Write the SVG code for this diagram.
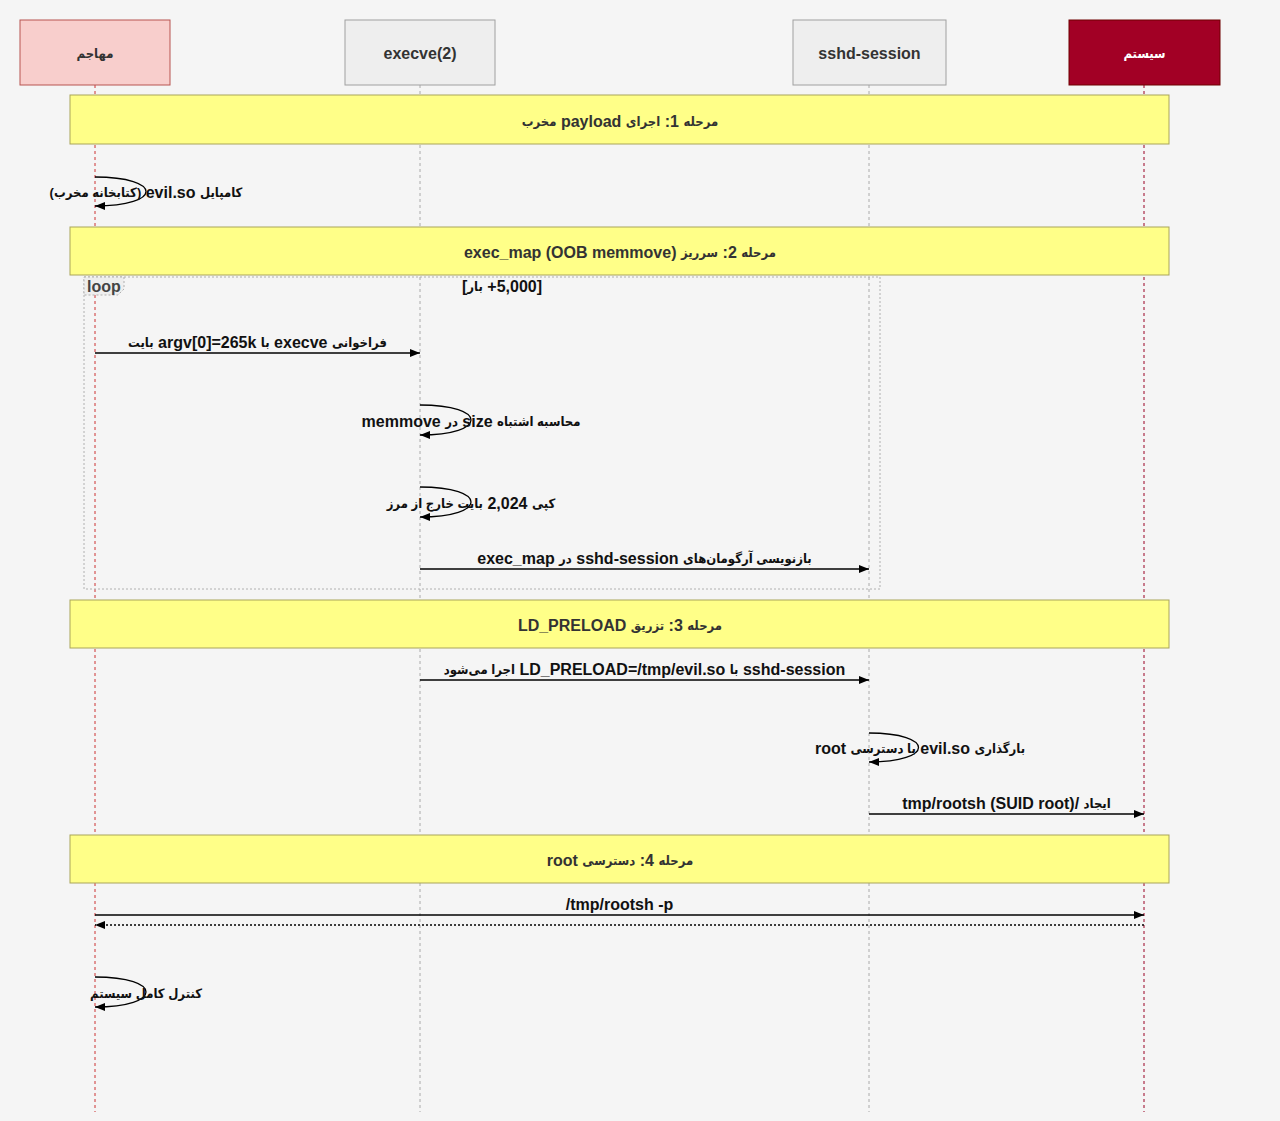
<svg xmlns="http://www.w3.org/2000/svg" width="1280" height="1121" viewBox="0 0 1280 1121">
<defs>
<style>
.t{font-family:"Liberation Sans","DejaVu Sans Condensed","DejaVu Sans",sans-serif;font-size:16px;font-weight:bold;text-anchor:middle;dominant-baseline:central}
.r{direction:rtl}
.l{direction:ltr}
.fa{font-size:13px}
.msg{fill:#111}
.ph{fill:#333}
.life{stroke-width:1;stroke-dasharray:3,3;fill:none}
.phase{fill:#ffff88;stroke:#aaa55a;stroke-width:1}
.part{stroke-width:1}
.line{stroke:#000;stroke-width:1.3;fill:none;marker-end:url(#ah)}
.dot{stroke:#000;stroke-width:1.3;fill:none;stroke-dasharray:2,2;marker-end:url(#ah)}
</style>
<marker id="ah" viewBox="0 0 10 8" refX="10" refY="4" markerWidth="10" markerHeight="8" markerUnits="userSpaceOnUse" orient="auto">
<path d="M0,0 L10,4 L0,8 z" fill="#000"/>
</marker>
</defs>
<rect x="0" y="0" width="1280" height="1121" fill="#f5f5f5"/>

<g id="lifelines">
<line class="life" x1="95" y1="85" x2="95" y2="1112" stroke="#cc3333"/>
<line class="life" x1="420" y1="85" x2="420" y2="1112" stroke="#aaa"/>
<line class="life" x1="869" y1="85" x2="869" y2="1112" stroke="#aaa"/>
<line class="life" x1="1144" y1="85" x2="1144" y2="1112" stroke="#990022"/>
</g>

<g id="loop">
<rect x="84" y="277" width="796" height="312" fill="none" stroke="#b0b0b0" stroke-width="1" stroke-dasharray="2,2"/>
<polygon points="84,277 124,277 124,289 118,295 84,295" fill="#eeeeee" stroke="#b0b0b0" stroke-width="1" stroke-dasharray="2,2"/>
<text class="t l" x="104" y="286" fill="#444">loop</text>
<text class="t r msg" x="502" y="286">[5,000+ <tspan class="fa">بار</tspan>]</text>
</g>

<g id="phase1">
<rect class="phase" x="70" y="95" width="1099" height="49"/>
<text class="t r ph" x="620" y="121"><tspan class="fa">مرحله</tspan> 1: <tspan class="fa">اجرای</tspan> payload <tspan class="fa">مخرب</tspan></text>
</g>
<g id="phase2">
<rect class="phase" x="70" y="227" width="1099" height="48"/>
<text class="t r ph" x="620" y="252"><tspan class="fa">مرحله</tspan> 2: <tspan class="fa">سرریز</tspan> exec_map (OOB memmove)</text>
</g>
<g id="phase3">
<rect class="phase" x="70" y="600" width="1099" height="48"/>
<text class="t r ph" x="620" y="625"><tspan class="fa">مرحله</tspan> 3: <tspan class="fa">تزریق</tspan> LD_PRELOAD</text>
</g>
<g id="phase4">
<rect class="phase" x="70" y="835" width="1099" height="48"/>
<text class="t r ph" x="620" y="860"><tspan class="fa">مرحله</tspan> 4: <tspan class="fa">دسترسی</tspan> root</text>
</g>

<g id="connectors">
<path class="line" d="M95,177 C163,177 163,206 95,206"/>
<text class="t r msg" x="146" y="192"><tspan class="fa">کامپایل</tspan> evil.so <tspan class="fa">(کتابخانه مخرب)</tspan></text>

<line class="line" x1="95" y1="353" x2="420" y2="353"/>
<text class="t r msg" x="257.5" y="342"><tspan class="fa">فراخوانی</tspan> execve <tspan class="fa">با</tspan> argv[0]=265k <tspan class="fa">بایت</tspan></text>

<path class="line" d="M420,405 C488,405 488,435 420,435"/>
<text class="t r msg" x="471" y="421"><tspan class="fa">محاسبه اشتباه</tspan> size <tspan class="fa">در</tspan> memmove</text>

<path class="line" d="M420,487 C488,487 488,517 420,517"/>
<text class="t r msg" x="471" y="503"><tspan class="fa">کپی</tspan> 2,024 <tspan class="fa">بایت خارج از مرز</tspan></text>

<line class="line" x1="420" y1="569" x2="869" y2="569"/>
<text class="t r msg" x="644.5" y="558"><tspan class="fa">بازنویسی آرگومان‌های</tspan> sshd-session <tspan class="fa">در</tspan> exec_map</text>

<line class="line" x1="420" y1="680" x2="869" y2="680"/>
<text class="t r msg" x="644.5" y="669">sshd-session <tspan class="fa">با</tspan> LD_PRELOAD=/tmp/evil.so <tspan class="fa">اجرا می‌شود</tspan></text>

<path class="line" d="M869,733 C935,733 935,762 869,762"/>
<text class="t r msg" x="920" y="748"><tspan class="fa">بارگذاری</tspan> evil.so <tspan class="fa">با دسترسی</tspan> root</text>

<line class="line" x1="869" y1="814" x2="1144" y2="814"/>
<text class="t r msg" x="1006.5" y="803"><tspan class="fa">ایجاد</tspan> /tmp/rootsh (SUID root)</text>

<line class="line" x1="95" y1="915" x2="1144" y2="915"/>
<text class="t l msg" x="619.5" y="904">/tmp/rootsh -p</text>

<line class="dot" x1="1144" y1="925" x2="95" y2="925"/>

<path class="line" d="M95,977 C163,977 163,1007 95,1007"/>
<text class="t r msg" x="146" y="993"><tspan class="fa">کنترل کامل سیستم</tspan></text>
</g>

<g id="p-attacker">
<rect class="part" x="20" y="20" width="150" height="65" fill="#f8cecc" stroke="#b85450"/>
<text class="t r fa" x="95" y="53" fill="#333">مهاجم</text>
</g>
<g id="p-execve">
<rect class="part" x="345" y="20" width="150" height="65" fill="#eeeeee" stroke="#a0a0a0"/>
<text class="t l" x="420" y="53" fill="#333">execve(2)</text>
</g>
<g id="p-sshd">
<rect class="part" x="793" y="20" width="153" height="65" fill="#eeeeee" stroke="#a0a0a0"/>
<text class="t l" x="869.5" y="53" fill="#333">sshd-session</text>
</g>
<g id="p-system">
<rect class="part" x="1069" y="20" width="151" height="65" fill="#a20025" stroke="#6f0000"/>
<text class="t r fa" x="1144.5" y="53" fill="#ffffff">سیستم</text>
</g>
</svg>
